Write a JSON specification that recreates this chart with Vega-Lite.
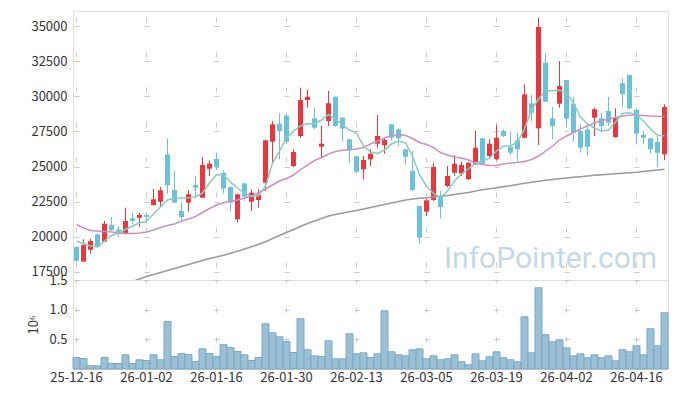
{
  "$schema": "https://vega.github.io/schema/vega-lite/v6.json",
  "padding": {"left": 27, "top": 10, "right": 9, "bottom": 5},
  "background": "white",
  "spacing": 0,
  "bounds": "flush",
  "config": {
    "view": {"stroke": "#dedede"},
    "axis": {"labelFont": "Noto Sans CJK KR", "labelFontSize": 13, "labelColor": "#333333", "domain": false, "ticks": false, "gridColor": "#c8c8c8", "gridWidth": 1, "titleFont": "Noto Sans CJK KR", "titleFontWeight": "normal", "titleColor": "#333333", "titleFontSize": 13, "labelOverlap": false}
  },
  "datasets": {
    "k": [
      {"d":"25-12-16","o":19250,"h":19300,"l":18200,"c":18250,"v":0.194,"m5":19680,"m20":20856},
      {"d":"25-12-17","o":18200,"h":19800,"l":18200,"c":19390,"v":0.177,"m5":19500,"m20":20607},
      {"d":"25-12-18","o":19057,"h":19843,"l":18771,"c":19679,"v":0.054,"m5":19321,"m20":20428},
      {"d":"25-12-19","o":20157,"h":20200,"l":19200,"c":19250,"v":0.054,"m5":19250,"m20":20392},
      {"d":"25-12-22","o":19629,"h":21107,"l":19600,"c":20914,"v":0.194,"m5":19680,"m20":20357},
      {"d":"25-12-23","o":20821,"h":21393,"l":20400,"c":20443,"v":0.093,"m5":20071,"m20":20321},
      {"d":"25-12-24","o":20514,"h":20750,"l":19986,"c":20200,"v":0.093,"m5":20285,"m20":20250},
      {"d":"25-12-26","o":20200,"h":22057,"l":20150,"c":21107,"v":0.239,"m5":20499,"m20":20214},
      {"d":"25-12-29","o":21300,"h":21700,"l":20871,"c":21107,"v":0.093,"m5":20749,"m20":20214,"m60":16785},
      {"d":"25-12-30","o":21343,"h":21700,"l":20679,"c":21536,"v":0.155,"m5":20964,"m20":20250,"m60":16964},
      {"d":"26-01-02","o":21536,"h":21700,"l":20950,"c":21400,"v":0.143,"m5":21107,"m20":20321,"m60":17142},
      {"d":"26-01-05","o":22250,"h":23393,"l":22200,"c":22657,"v":0.239,"m5":21607,"m20":20464,"m60":17286},
      {"d":"26-01-06","o":22486,"h":23536,"l":22157,"c":23300,"v":0.155,"m5":22106,"m20":20642,"m60":17428},
      {"d":"26-01-07","o":25871,"h":26986,"l":23057,"c":23657,"v":0.80,"m5":22606,"m20":20785,"m60":17571},
      {"d":"26-01-08","o":23321,"h":24679,"l":22400,"c":22414,"v":0.21,"m5":22749,"m20":20893,"m60":17714},
      {"d":"26-01-09","o":21821,"h":22486,"l":21107,"c":21393,"v":0.26,"m5":22749,"m20":21107,"m60":17857},
      {"d":"26-01-12","o":22414,"h":23300,"l":21771,"c":23014,"v":0.245,"m5":22771,"m20":21250,"m60":18000},
      {"d":"26-01-13","o":23679,"h":24321,"l":22821,"c":23486,"v":0.126,"m5":22821,"m20":21428,"m60":18142},
      {"d":"26-01-14","o":22771,"h":25679,"l":22730,"c":25107,"v":0.34,"m5":23107,"m20":21714,"m60":18285},
      {"d":"26-01-15","o":24843,"h":25443,"l":24321,"c":25200,"v":0.26,"m5":23821,"m20":22000,"m60":18428},
      {"d":"26-01-16","o":25536,"h":25986,"l":24729,"c":24986,"v":0.21,"m5":24428,"m20":22250,"m60":18535},
      {"d":"26-01-19","o":24536,"h":24729,"l":23057,"c":23414,"v":0.41,"m5":24392,"m20":22414,"m60":18657},
      {"d":"26-01-20","o":23536,"h":23560,"l":21771,"c":22414,"v":0.363,"m5":23892,"m20":22514,"m60":18800},
      {"d":"26-01-21","o":21229,"h":23050,"l":20986,"c":23014,"v":0.295,"m5":23464,"m20":22607,"m60":18943},
      {"d":"26-01-22","o":23800,"h":23820,"l":22536,"c":22843,"v":0.239,"m5":23107,"m20":22750,"m60":19107},
      {"d":"26-01-23","o":22486,"h":23371,"l":21821,"c":23129,"v":0.143,"m5":22857,"m20":22892,"m60":19271},
      {"d":"26-01-26","o":22607,"h":23371,"l":22057,"c":22964,"v":0.194,"m5":22892,"m20":23142,"m60":19442},
      {"d":"26-01-27","o":23843,"h":26900,"l":23250,"c":26871,"v":0.762,"m5":23607,"m20":23392,"m60":19628},
      {"d":"26-01-28","o":26771,"h":28250,"l":25229,"c":28014,"v":0.61,"m5":25249,"m20":23678,"m60":19857},
      {"d":"26-01-29","o":28057,"h":28800,"l":25514,"c":27536,"v":0.543,"m5":26106,"m20":23964,"m60":20071},
      {"d":"26-01-30","o":28629,"h":28800,"l":26600,"c":26750,"v":0.464,"m5":27035,"m20":24142,"m60":20285},
      {"d":"26-02-02","o":25036,"h":26229,"l":24950,"c":26036,"v":0.278,"m5":27535,"m20":24392,"m60":20499},
      {"d":"26-02-03","o":27179,"h":30629,"l":27057,"c":29750,"v":0.847,"m5":27892,"m20":24785,"m60":20714},
      {"d":"26-02-04","o":29750,"h":30514,"l":29200,"c":29986,"v":0.324,"m5":28057,"m20":25106,"m60":20928},
      {"d":"26-02-05","o":28443,"h":29200,"l":27657,"c":27771,"v":0.222,"m5":28057,"m20":25428,"m60":21107},
      {"d":"26-02-06","o":26414,"h":27893,"l":25679,"c":26629,"v":0.21,"m5":28321,"m20":25642,"m60":21285},
      {"d":"26-02-09","o":28250,"h":30393,"l":27893,"c":29514,"v":0.475,"m5":28714,"m20":25892,"m60":21464},
      {"d":"26-02-10","o":29986,"h":30000,"l":27850,"c":27893,"v":0.172,"m5":28392,"m20":26071,"m60":21571},
      {"d":"26-02-11","o":28486,"h":28500,"l":26821,"c":27700,"v":0.172,"m5":27964,"m20":26157,"m60":21678},
      {"d":"26-02-12","o":26943,"h":26960,"l":25271,"c":26157,"v":0.594,"m5":27607,"m20":26200,"m60":21771},
      {"d":"26-02-13","o":25729,"h":25740,"l":24486,"c":24629,"v":0.256,"m5":27392,"m20":26250,"m60":21857},
      {"d":"26-02-19","o":24800,"h":25750,"l":24086,"c":25464,"v":0.273,"m5":26464,"m20":26357,"m60":21964},
      {"d":"26-02-20","o":25514,"h":26229,"l":25036,"c":25914,"v":0.194,"m5":26035,"m20":26607,"m60":22071},
      {"d":"26-02-23","o":26629,"h":28679,"l":26343,"c":27179,"v":0.256,"m5":25928,"m20":26821,"m60":22178},
      {"d":"26-02-24","o":26514,"h":27057,"l":25914,"c":26893,"v":0.981,"m5":26178,"m20":27035,"m60":22285},
      {"d":"26-02-25","o":28014,"h":28030,"l":26871,"c":27057,"v":0.29,"m5":26607,"m20":27214,"m60":22392},
      {"d":"26-02-26","o":27657,"h":27729,"l":26464,"c":27014,"v":0.239,"m5":26821,"m20":27300,"m60":22500},
      {"d":"26-02-27","o":26229,"h":26240,"l":25157,"c":25700,"v":0.222,"m5":26678,"m20":27214,"m60":22607},
      {"d":"26-03-03","o":24679,"h":26107,"l":23300,"c":23300,"v":0.324,"m5":25750,"m20":27000,"m60":22678},
      {"d":"26-03-04","o":22179,"h":22190,"l":19486,"c":19914,"v":0.34,"m5":24392,"m20":26714,"m60":22728},
      {"d":"26-03-05","o":21771,"h":22700,"l":21464,"c":22586,"v":0.172,"m5":23607,"m20":26571,"m60":22771},
      {"d":"26-03-06","o":22607,"h":25271,"l":22536,"c":24964,"v":0.222,"m5":23071,"m20":26357,"m60":22821},
      {"d":"26-03-09","o":22893,"h":23250,"l":21300,"c":22107,"v":0.155,"m5":22785,"m20":26000,"m60":22871},
      {"d":"26-03-10","o":23607,"h":25036,"l":23536,"c":24321,"v":0.172,"m5":23250,"m20":25821,"m60":22928},
      {"d":"26-03-11","o":24557,"h":25821,"l":24321,"c":25200,"v":0.239,"m5":23964,"m20":25678,"m60":23000},
      {"d":"26-03-12","o":24486,"h":25343,"l":24321,"c":25107,"v":0.121,"m5":24464,"m20":25607,"m60":23071},
      {"d":"26-03-13","o":24086,"h":25300,"l":24050,"c":25271,"v":0.07,"m5":24821,"m20":25464,"m60":23142},
      {"d":"26-03-16","o":25157,"h":27536,"l":25100,"c":26343,"v":0.256,"m5":25249,"m20":25249,"m60":23250},
      {"d":"26-03-17","o":27014,"h":27030,"l":25150,"c":25200,"v":0.138,"m5":25392,"m20":25142,"m60":23336},
      {"d":"26-03-18","o":25750,"h":26943,"l":25586,"c":26629,"v":0.205,"m5":25607,"m20":25071,"m60":23407},
      {"d":"26-03-19","o":25514,"h":27964,"l":25443,"c":27057,"v":0.29,"m5":26106,"m20":25071,"m60":23485},
      {"d":"26-03-20","o":27536,"h":27650,"l":27100,"c":27179,"v":0.189,"m5":26464,"m20":25178,"m60":23557},
      {"d":"26-03-23","o":26393,"h":27486,"l":25821,"c":25986,"v":0.155,"m5":26464,"m20":25249,"m60":23628},
      {"d":"26-03-24","o":26871,"h":27414,"l":25271,"c":26229,"v":0.121,"m5":26750,"m20":25285,"m60":23714},
      {"d":"26-03-25","o":27057,"h":30871,"l":27000,"c":30157,"v":0.88,"m5":27678,"m20":25357,"m60":23800},
      {"d":"26-03-26","o":29514,"h":30107,"l":28250,"c":28843,"v":0.273,"m5":29035,"m20":25500,"m60":23878},
      {"d":"26-03-27","o":27729,"h":35629,"l":26536,"c":34964,"v":1.369,"m5":29821,"m20":25750,"m60":23950},
      {"d":"26-03-30","o":32414,"h":33057,"l":29600,"c":29629,"v":0.577,"m5":30392,"m20":26106,"m60":24014},
      {"d":"26-03-31","o":28443,"h":29250,"l":26943,"c":27893,"v":0.459,"m5":30428,"m20":26464,"m60":24071},
      {"d":"26-04-01","o":29486,"h":32536,"l":29200,"c":30750,"v":0.492,"m5":30443,"m20":26893,"m60":24121},
      {"d":"26-04-02","o":31179,"h":31190,"l":27771,"c":28414,"v":0.357,"m5":30271,"m20":27178,"m60":24178},
      {"d":"26-04-03","o":29486,"h":29964,"l":26771,"c":27414,"v":0.222,"m5":29535,"m20":27428,"m60":24228},
      {"d":"26-04-06","o":27536,"h":28014,"l":25986,"c":26343,"v":0.256,"m5":28535,"m20":27678,"m60":24271},
      {"d":"26-04-07","o":27657,"h":28057,"l":25750,"c":26393,"v":0.189,"m5":28035,"m20":27892,"m60":24321},
      {"d":"26-04-08","o":28486,"h":29200,"l":27179,"c":29086,"v":0.239,"m5":27750,"m20":28107,"m60":24371},
      {"d":"26-04-09","o":28443,"h":28843,"l":27536,"c":27893,"v":0.189,"m5":27535,"m20":28271,"m60":24414},
      {"d":"26-04-10","o":28964,"h":29964,"l":27893,"c":28129,"v":0.222,"m5":27607,"m20":28392,"m60":24450},
      {"d":"26-04-13","o":27107,"h":29157,"l":27050,"c":28443,"v":0.138,"m5":28178,"m20":28500,"m60":24485},
      {"d":"26-04-14","o":30943,"h":31300,"l":29200,"c":30157,"v":0.324,"m5":28785,"m20":28607,"m60":24521},
      {"d":"26-04-15","o":31536,"h":31550,"l":29100,"c":29157,"v":0.29,"m5":28843,"m20":28657,"m60":24557},
      {"d":"26-04-16","o":29036,"h":29200,"l":26586,"c":27343,"v":0.391,"m5":28678,"m20":28657,"m60":24593},
      {"d":"26-04-17","o":27250,"h":27536,"l":26586,"c":27057,"v":0.239,"m5":28250,"m20":28642,"m60":24643},
      {"d":"26-04-20","o":27014,"h":27030,"l":25914,"c":26229,"v":0.678,"m5":27678,"m20":28607,"m60":24693},
      {"d":"26-04-21","o":26750,"h":27179,"l":24964,"c":25986,"v":0.391,"m5":27250,"m20":28585,"m60":24750},
      {"d":"26-04-22","o":25871,"h":29443,"l":25443,"c":29250,"v":0.948,"m5":27178,"m20":28557,"m60":24800}
    ]
  },
  "vconcat": [
    {
      "width": 595,
      "height": 269,
      "data": {"name": "k"},
      "encoding": {
        "x": {
          "field": "d", "type": "ordinal", "sort": null,
          "scale": {"type": "band", "paddingInner": 0, "paddingOuter": 0},
          "axis": {"values": ["25-12-16","26-01-02","26-01-16","26-01-30","26-02-13","26-03-05","26-03-19","26-04-02","26-04-16"], "labels": false, "title": null, "grid": true, "gridDash": [5, 30], "gridDashOffset": 29}
        }
      },
      "layer": [
        {
          "mark": {"type": "rule", "strokeWidth": 1},
          "encoding": {
            "y": {"field": "l", "type": "quantitative", "scale": {"domain": [16893, 36107], "nice": false, "zero": false},
                  "axis": {"values": [17500, 20000, 22500, 25000, 27500, 30000, 32500, 35000], "tickCount": 20, "format": "d", "title": null, "labelPadding": 6, "labelOverlap": false, "labelFlush": false, "grid": true, "gridDash": [5, 65], "gridDashOffset": 69}},
            "y2": {"field": "h"},
            "color": {"condition": {"test": "datum.c > datum.o", "value": "#e8383d"}, "value": "#6ac2d9"}
          }
        },
        {
          "mark": {"type": "bar", "size": 5},
          "encoding": {
            "y": {"field": "o", "type": "quantitative"},
            "y2": {"field": "c"},
            "color": {"condition": {"test": "datum.c > datum.o", "value": "#e8383d"}, "value": "#6ac2d9"}
          }
        },
        {
          "mark": {"type": "line", "color": "#9a9a9a", "strokeWidth": 1.5, "clip": true},
          "transform": [{"filter": "isValid(datum.m60)"}],
          "encoding": {"y": {"field": "m60", "type": "quantitative"}}
        },
        {
          "mark": {"type": "line", "color": "#cc8fc8", "strokeWidth": 1.5, "clip": true},
          "encoding": {"y": {"field": "m20", "type": "quantitative"}}
        },
        {
          "mark": {"type": "line", "color": "#8bcabd", "strokeWidth": 1.5, "clip": true},
          "encoding": {"y": {"field": "m5", "type": "quantitative"}}
        },
        {
          "data": {"values": [{}]},
          "mark": {"type": "text", "text": "InfoPointer.com", "font": "Roboto", "fontSize": 30, "color": "#c5d9e4", "align": "center", "baseline": "alphabetic", "dx": -2},
          "encoding": {"x": {"datum": "26-03-31"}, "y": {"datum": 17770}}
        }
      ]
    },
    {
      "width": 595,
      "height": 89,
      "data": {"name": "k"},
      "mark": {"type": "bar", "fill": "#9cc0d3", "stroke": "#78a8c6", "strokeWidth": 1},
      "encoding": {
        "x": {
          "field": "d", "type": "ordinal", "sort": null,
          "scale": {"type": "band", "paddingInner": 0, "paddingOuter": 0},
          "axis": {"values": ["25-12-16","26-01-02","26-01-16","26-01-30","26-02-13","26-03-05","26-03-19","26-04-02","26-04-16"], "labelAngle": 0, "labelPadding": 2, "labelOverlap": false, "title": null, "grid": true, "gridDash": [5, 24.67], "gridDashOffset": 2.5}
        },
        "y": {
          "field": "v", "type": "quantitative", "scale": {"domain": [0, 1.5], "nice": false},
          "axis": {"values": [0.5, 1, 1.5], "tickCount": 10, "format": ".1f", "title": "10⁶", "titlePadding": 8, "labelPadding": 6, "labelOverlap": false, "labelFlush": false, "grid": true, "gridDash": [5, 65], "gridDashOffset": 69}
        }
      }
    }
  ]
}
